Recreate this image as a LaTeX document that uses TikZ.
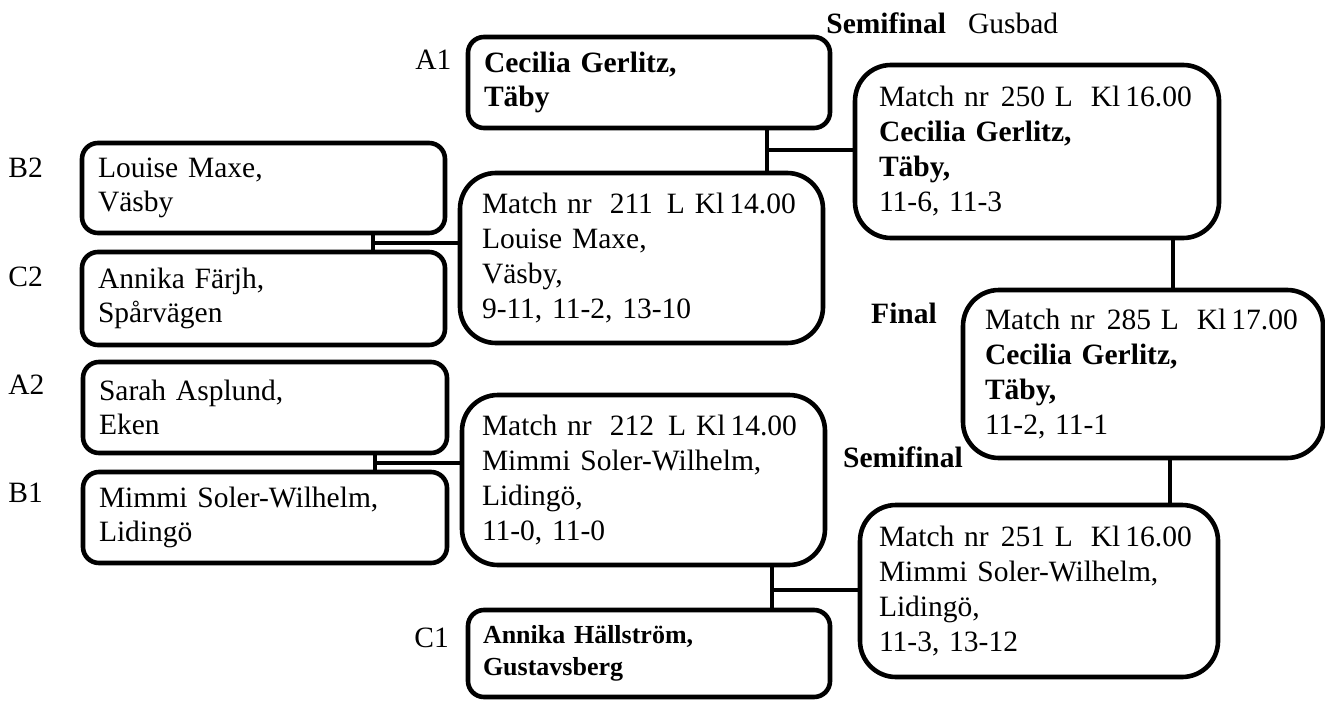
\documentclass[tikz,border=0pt]{standalone}
\usepackage{fontspec}
\setmainfont{Liberation Serif}
\begin{document}
\begin{tikzpicture}[x=0.5pt,y=-0.5pt,
  pbox/.style={draw, line width=2.3pt, rounded corners=8pt, align=left, inner ysep=0pt,
    font=\fontsize{14.75}{17}\selectfont},
  mbox/.style={draw, line width=2.3pt, rounded corners=18pt, align=left, inner ysep=0pt,
    font=\fontsize{14.75}{17.5}\selectfont},
  lbl/.style={anchor=west, inner sep=0pt, font=\fontsize{14.75}{17}\selectfont},
  hdr/.style={inner sep=0pt, font=\fontsize{14.75}{17}\selectfont\bfseries},
  conn/.style={line width=1.8pt}]
\useasboundingbox (0,0) rectangle (1325,700);

% first-round boxes
\node[pbox, minimum width=181pt, minimum height=45.5pt, inner xsep=8pt, text width=165pt] (A1) at (649,82.5) {\bfseries Cecilia Gerlitz,\\\bfseries Täby};
\node[pbox, minimum width=181.5pt, minimum height=45pt, inner xsep=8pt, text width=165.5pt] (B2) at (263.5,188) {Louise Maxe,\\Väsby};
\node[pbox, minimum width=181.5pt, minimum height=46.5pt, inner xsep=8pt, text width=165.5pt] (C2) at (263.5,298.5) {Annika Färjh,\\Spårvägen};
\node[pbox, minimum width=182pt, minimum height=45.5pt, inner xsep=8pt, text width=166pt] (A2) at (265,407.5) {Sarah Asplund,\\Eken};
\node[pbox, minimum width=182pt, minimum height=45.5pt, inner xsep=8pt, text width=166pt] (B1) at (265,517.5) {Mimmi Soler-Wilhelm,\\Lidingö};
\node[pbox, minimum width=181pt, minimum height=43.5pt, inner xsep=7.5pt, text width=166pt, font=\fontsize{13}{16}\selectfont\bfseries] (C1) at (649,653.5) {Annika Hällström,\\Gustavsberg};

% seed labels
\node[lbl] (lA1) at (415,60) {A1};
\node[lbl] (lB2) at (8,168) {B2};
\node[lbl] (lC2) at (8,277) {C2};
\node[lbl] (lA2) at (8,385) {A2};
\node[lbl] (lB1) at (8,493) {B1};
\node[lbl] (lC1) at (414,638) {C1};

% match boxes
\node[mbox, minimum width=181.5pt, minimum height=85pt, inner xsep=11pt, text width=159.5pt] (M211) at (641.5,258)
  {\mbox{Match nr\hspace{9pt}211\hspace{7pt}L\hspace{5pt}Kl\hspace{2.5pt}14.00}\\Louise Maxe,\\Väsby,\\9-11, 11-2, 13-10};
\node[mbox, minimum width=181.5pt, minimum height=85pt, inner xsep=10pt, text width=161.5pt] (M212) at (643.5,480)
  {\mbox{Match nr\hspace{9pt}212\hspace{7pt}L\hspace{5pt}Kl\hspace{2.5pt}14.00}\\Mimmi Soler-Wilhelm,\\Lidingö,\\11-0, 11-0};
\node[mbox, minimum width=182pt, minimum height=86.5pt, inner xsep=12pt, text width=158pt] (M250) at (1037,151.5)
  {\mbox{Match nr\hspace{6pt}250 L\hspace{9pt}Kl\hspace{2.5pt}16.00}\\\textbf{Cecilia Gerlitz,}\\\textbf{Täby,}\\11-6, 11-3};
\node[mbox, minimum width=180pt, minimum height=84pt, inner xsep=11pt, text width=158pt] (M285) at (1143,374)
  {\mbox{Match nr\hspace{6pt}285 L\hspace{9pt}Kl\hspace{2.5pt}17.00}\\\textbf{Cecilia Gerlitz,}\\\textbf{Täby,}\\11-2, 11-1};
\node[mbox, minimum width=179pt, minimum height=86pt, inner xsep=9.5pt, text width=160pt] (M251) at (1039,591)
  {\mbox{Match nr\hspace{6pt}251 L\hspace{9pt}Kl\hspace{2.5pt}16.00}\\Mimmi Soler-Wilhelm,\\Lidingö,\\11-3, 13-12};

% round headers
\node[hdr, anchor=west] (hSF1) at (826,23) {Semifinal\hspace{11pt}\mdseries Gusbad};
\node[hdr] (hF) at (904,313) {Final};
\node[hdr] (hSF2) at (903,457) {Semifinal};

% junction coordinates
\coordinate (j1) at (767,150);
\coordinate (j2) at (373,243);
\coordinate (j3) at (375,463);
\coordinate (j4) at (772,590);
\coordinate (j5) at (1173,264);
\coordinate (j6) at (1170,482);

% connectors
\draw[conn] (A1.south -| j1) -- (M211.north -| j1);
\draw[conn] (j1) -- (j1 -| M250.west);
\draw[conn] (B2.south -| j2) -- (C2.north -| j2);
\draw[conn] (j2) -- (j2 -| M211.west);
\draw[conn] (A2.south -| j3) -- (B1.north -| j3);
\draw[conn] (j3) -- (j3 -| M212.west);
\draw[conn] (M212.south -| j4) -- (C1.north -| j4);
\draw[conn] (j4) -- (j4 -| M251.west);
\draw[conn] (M250.south -| j5) -- (M285.north -| j5);
\draw[conn] (M285.south -| j6) -- (M251.north -| j6);
\end{tikzpicture}
\end{document}
